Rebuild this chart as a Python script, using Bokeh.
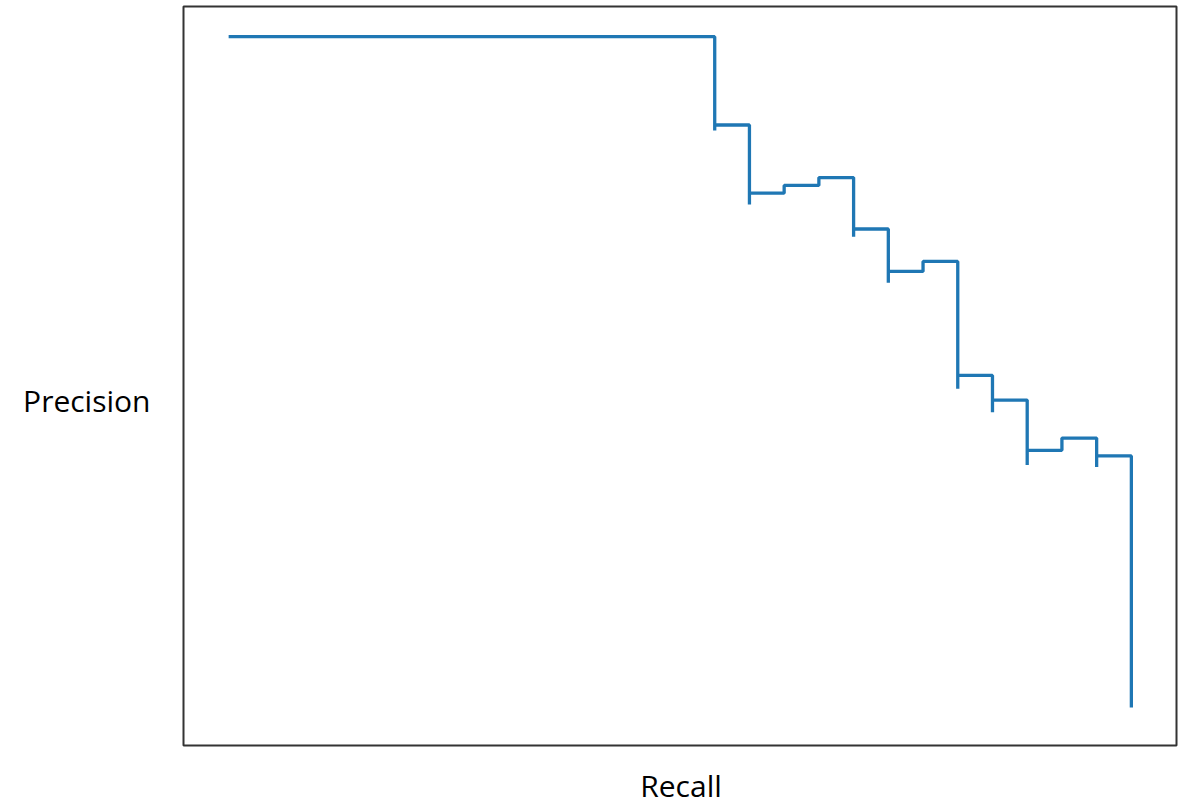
from bokeh.plotting import figure
from bokeh.models import Range1d, LinearAxis, FixedTicker
from bokeh.embed import file_html
from bokeh.resources import INLINE

# Data: precision-recall curve (recall as k/27 positives)
recall_k = [1, 15, 15, 16, 16, 17, 18, 19, 19, 20, 20, 21, 22, 22, 23, 23, 24, 24, 25, 26, 26, 27]
precision = [1.000, 0.916, 0.921, 0.850, 0.860, 0.867, 0.874, 0.821, 0.828, 0.780, 0.790,
             0.799, 0.685, 0.697, 0.664, 0.675, 0.617, 0.630, 0.641, 0.615, 0.625, 0.400]
n_pos = 27
recall = [k / n_pos for k in recall_k]

x_label = "Recall"
y_label = "Precision"

xmin, xmax = min(recall), max(recall)
pad = 0.05 * (xmax - xmin)

p = figure(width=1184, height=808, output_backend="svg", toolbar_location=None,
           x_range=Range1d(xmin - pad, xmax + pad), y_range=Range1d(0.366, 1.027),
           x_axis_location=None, y_axis_location=None,
           min_border_left=183, min_border_right=8, min_border_top=6, min_border_bottom=63)
p.grid.visible = False
p.outline_line_color = "#333333"
p.outline_line_width = 2
p.background_fill_color = "white"
p.border_fill_color = "white"

p.step(recall, precision, mode="after", line_color="#1f77b4", line_width=3.3)

# left "axis": a single horizontal label
ly = 0.6744
yax = LinearAxis(ticker=FixedTicker(ticks=[ly]), major_label_overrides={ly: y_label})
# bottom "axis": a single label
lx = 0.5196
xax = LinearAxis(ticker=FixedTicker(ticks=[lx]), major_label_overrides={lx: x_label})
for ax, standoff in ((yax, 27), (xax, 13)):
    ax.axis_line_color = None
    ax.major_tick_line_color = None
    ax.minor_tick_line_color = None
    ax.major_label_text_font = "Open Sans"
    ax.major_label_text_font_size = "30px"
    ax.major_label_text_color = "black"
    ax.major_label_standoff = standoff
p.add_layout(yax, "left")
p.add_layout(xax, "below")

open("out.html", "w").write(file_html(p, INLINE))
